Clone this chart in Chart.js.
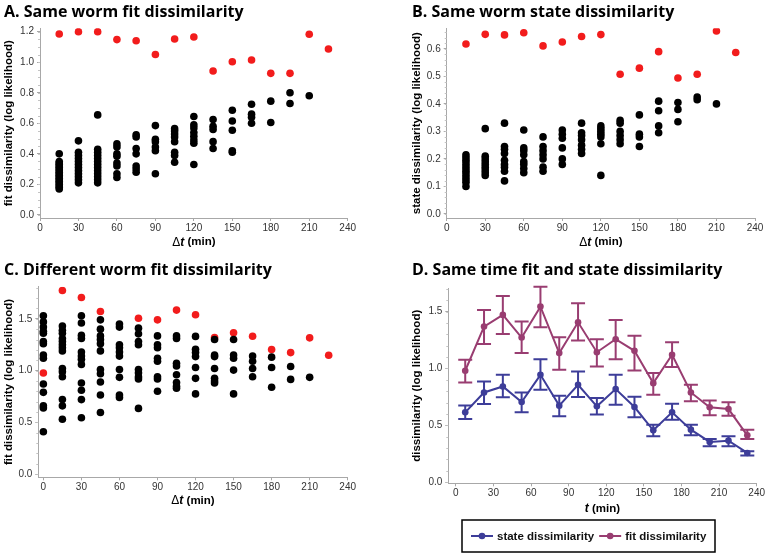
<!DOCTYPE html>
<html><head><meta charset="utf-8">
<script src="https://cdn.jsdelivr.net/npm/chart.js@4/dist/chart.umd.min.js"></script>
<style>
html,body{margin:0;padding:0;background:#fff;}
#wrap{position:relative;width:769px;height:556px;overflow:hidden;background:#fff;}
.pc{position:absolute;}
</style></head><body>
<div id="wrap">
<div class="pc" style="left:0;top:0;width:385px;height:262px"><canvas id="cA"></canvas></div>
<div class="pc" style="left:385px;top:0;width:384px;height:262px"><canvas id="cB"></canvas></div>
<div class="pc" style="left:0;top:256px;width:385px;height:264px"><canvas id="cC"></canvas></div>
<div class="pc" style="left:385px;top:256px;width:384px;height:300px"><canvas id="cD"></canvas></div>
</div>
<script>
// ---------- DATA ----------
const xTicks = [0,30,60,90,120,150,180,210,240];
const yTicksA = [0,0.2,0.4,0.6,0.8,1.0,1.2];
const yTicksB = [0,0.1,0.2,0.3,0.4,0.5,0.6];
const yTicksC = [0,0.5,1.0,1.5];
const yTicksD = [0,0.5,1.0,1.5];

// Panel A: same worm fit dissimilarity
const dtSame = [15,30,45,60,75,90,105,120,135,150,165,180,195,210];
const fitSameBlack = [
  [0.40,0.35,0.34,0.33,0.32,0.31,0.30,0.29,0.28,0.27,0.26,0.25,0.24,0.23,0.22,0.21,0.20,0.19,0.18,0.17],
  [0.485,0.41,0.39,0.37,0.35,0.33,0.31,0.29,0.27,0.25,0.23,0.21],
  [0.655,0.43,0.41,0.39,0.37,0.35,0.33,0.31,0.29,0.27,0.25,0.23,0.21],
  [0.465,0.445,0.40,0.385,0.34,0.32,0.27,0.245],
  [0.525,0.51,0.435,0.40,0.32,0.30,0.28],
  [0.585,0.495,0.48,0.445,0.42,0.27],
  [0.565,0.55,0.53,0.51,0.48,0.41,0.39,0.345],
  [0.645,0.59,0.57,0.54,0.515,0.49,0.47,0.33],
  [0.625,0.58,0.56,0.48,0.435],
  [0.685,0.615,0.555,0.42,0.41],
  [0.725,0.66,0.64,0.60],
  [0.745,0.605],
  [0.80,0.73],
  [0.78]
];
const dtSameRed = [15,30,45,60,75,90,105,120,135,150,165,180,195,210,225];
const fitSameRed = [1.185,1.20,1.20,1.148,1.14,1.05,1.152,1.165,0.942,1.003,1.014,0.927,0.927,1.183,1.086];

// Panel B: same worm state dissimilarity
const stateSameBlack = [
  [0.215,0.205,0.195,0.185,0.175,0.165,0.155,0.145,0.135,0.125,0.115,0.10],
  [0.31,0.21,0.20,0.19,0.18,0.17,0.16,0.15,0.14],
  [0.33,0.245,0.235,0.22,0.195,0.18,0.17,0.155,0.12],
  [0.305,0.24,0.23,0.215,0.19,0.18,0.165,0.15],
  [0.28,0.245,0.23,0.215,0.20,0.17,0.155],
  [0.305,0.29,0.275,0.24,0.20,0.18],
  [0.33,0.295,0.285,0.27,0.25,0.235,0.22],
  [0.32,0.31,0.30,0.29,0.28,0.255,0.14],
  [0.34,0.33,0.30,0.285,0.27,0.255],
  [0.36,0.29,0.28,0.245],
  [0.41,0.375,0.32,0.295],
  [0.405,0.38,0.335],
  [0.425,0.415],
  [0.40]
];
const stateSameRed = [0.618,0.653,0.651,0.659,0.611,0.625,0.645,0.652,0.508,0.530,0.590,0.494,0.508,0.665,0.587];

// Panel C: different worm fit dissimilarity
const dtDiff = [0,15,30,45,60,75,90,105,120,135,150,165,180,195,210];
const fitDiffBlack = [
  [1.53,1.47,1.42,1.38,1.36,1.28,1.26,1.15,1.12,0.87,0.79,0.66,0.64,0.41],
  [1.43,1.39,1.36,1.31,1.28,1.25,1.22,1.19,1.02,0.99,0.94,0.72,0.66,0.53],
  [1.53,1.46,1.34,1.31,1.18,1.14,1.11,1.06,0.88,0.81,0.72,0.545],
  [1.49,1.40,1.335,1.30,1.26,1.19,1.01,0.97,0.89,0.765,0.595],
  [1.45,1.42,1.25,1.22,1.18,1.14,1.01,0.935,0.765,0.74],
  [1.41,1.355,1.28,1.25,1.01,0.98,0.94,0.92,0.635],
  [1.335,1.25,1.22,1.12,1.09,0.94,0.92,0.80],
  [1.335,1.31,1.07,1.045,0.96,0.885,0.85,0.83],
  [1.33,1.205,1.175,1.135,1.03,0.925,0.775],
  [1.30,1.15,1.135,1.02,0.925,0.90,0.88],
  [1.30,1.15,1.12,1.005,0.775],
  [1.14,1.09,1.02,0.94],
  [1.13,1.03,0.84],
  [1.04,0.915],
  [0.935]
];
const dtDiffRed = [0,15,30,45,75,90,105,120,135,150,165,180,195,210,225];
const fitDiffRed = [0.977,1.774,1.706,1.571,1.506,1.49,1.584,1.539,1.319,1.365,1.332,1.203,1.174,1.316,1.148];

// Panel D: same time fit and state dissimilarity
const tD = [7.5,22.5,37.5,52.5,67.5,82.5,97.5,112.5,127.5,142.5,157.5,172.5,187.5,202.5,217.5,232.5];
const stateMean = [0.614,0.789,0.842,0.705,0.944,0.673,0.857,0.667,0.819,0.661,0.456,0.614,0.462,0.354,0.365,0.257];
const stateLo   = [0.556,0.687,0.746,0.614,0.813,0.579,0.749,0.594,0.681,0.570,0.404,0.550,0.412,0.316,0.316,0.234];
const stateHi   = [0.675,0.886,0.944,0.789,1.082,0.760,0.974,0.740,0.944,0.751,0.506,0.690,0.506,0.380,0.404,0.272];
const fitMean   = [0.98,1.368,1.471,1.272,1.544,1.135,1.406,1.143,1.257,1.155,0.871,1.12,0.789,0.658,0.643,0.412];
const fitLo     = [0.877,1.216,1.304,1.135,1.363,0.988,1.246,1.018,1.082,0.982,0.769,1.012,0.711,0.588,0.585,0.380];
const fitHi     = [1.076,1.515,1.637,1.412,1.719,1.275,1.573,1.257,1.427,1.287,0.959,1.231,0.857,0.719,0.702,0.462];

// ---------- HELPERS ----------
const BLUE = '#3d3d99', PURPLE = '#993d71', RED = '#f21c1c', AXIS = '#a8a8a8';
const TICKFONT = {family:'"Liberation Sans", Arial, sans-serif', size:10};
const cols = (xs, lists) => lists.flatMap((ys,i) => ys.map(y => ({x:xs[i], y})));
const pairs = (xs, ys) => ys.map((y,i) => ({x:xs[i], y}));

const errorBars = {
  id:'errorBars',
  afterDatasetsDraw(chart){
    const {ctx, scales:{x,y}} = chart;
    chart.data.datasets.forEach(ds => {
      if(!ds.errLo) return;
      ctx.save(); ctx.strokeStyle = ds.borderColor; ctx.lineWidth = 2;
      ds.data.forEach((p,j) => {
        const px = x.getPixelForValue(p.x), y1 = y.getPixelForValue(ds.errLo[j]), y2 = y.getPixelForValue(ds.errHi[j]);
        ctx.beginPath();
        ctx.moveTo(px,y1); ctx.lineTo(px,y2);
        ctx.moveTo(px-7,y1); ctx.lineTo(px+7,y1);
        ctx.moveTo(px-7,y2); ctx.lineTo(px+7,y2);
        ctx.stroke();
      });
      ctx.restore();
    });
  }
};
const richTitle = {
  id:'richTitle',
  afterDraw(chart, args, opts){
    if(!opts.parts) return;
    const ctx = chart.ctx, ca = chart.chartArea;
    ctx.save(); ctx.textBaseline = 'middle'; ctx.fillStyle = '#000';
    const w = opts.parts.map(p => { ctx.font = p.font; return ctx.measureText(p.text).width; });
    let x0 = (ca.left + ca.right)/2 - w.reduce((a,b)=>a+b,0)/2;
    opts.parts.forEach((p,k) => { ctx.font = p.font; ctx.fillText(p.text, x0, opts.y); x0 += w[k]; });
    ctx.restore();
  }
};
const minorTicks = {
  id:'minorTicks',
  afterDraw(chart, args, opts){
    if(!opts.yStep) return;
    const {ctx, chartArea:ca, scales:{x,y}} = chart;
    ctx.save(); ctx.strokeStyle = '#c4c4c4'; ctx.lineWidth = 1;
    for(let v = 0; v <= y.max + 1e-9; v += opts.yStep){
      const py = Math.round(y.getPixelForValue(v)) + 0.5;
      ctx.beginPath(); ctx.moveTo(ca.left, py); ctx.lineTo(ca.left - 2, py); ctx.stroke();
    }
    ctx.restore();
  }
};
const boxLegend = {
  id:'boxLegend',
  afterDraw(chart, args, opts){
    if(!opts.box) return;
    const ctx = chart.ctx, b = opts.box;
    ctx.save();
    ctx.strokeStyle = '#000'; ctx.lineWidth = 1.5; ctx.strokeRect(b.x, b.y, b.w, b.h);
    ctx.font = 'bold 11.5px "Liberation Sans", Arial, sans-serif'; ctx.textBaseline = 'middle';
    let cx = b.x + 9; const cy = b.y + b.h/2;
    chart.data.datasets.forEach(ds => {
      ctx.strokeStyle = ds.borderColor; ctx.fillStyle = ds.borderColor; ctx.lineWidth = 2;
      ctx.beginPath(); ctx.moveTo(cx, cy); ctx.lineTo(cx+22, cy); ctx.stroke();
      ctx.beginPath(); ctx.arc(cx+11, cy, 3.3, 0, Math.PI*2); ctx.fill();
      ctx.fillStyle = '#111'; ctx.fillText(ds.label, cx+26, cy+0.5);
      cx += 26 + ctx.measureText(ds.label).width + 5;
    });
    ctx.restore();
  }
};

function makeScales(o){
  return {
    x:{type:'linear', min:o.xmin, max:240,
       afterBuildTicks:s => { s.ticks = xTicks.map(v => ({value:v})); },
       afterFit:s => { s.height = o.xh; },
       grid:{display:true, drawOnChartArea:false, drawTicks:true, tickLength:3, color:AXIS},
       border:{display:true, color:AXIS, width:1},
       ticks:{font:TICKFONT, color:'#333', padding:1, maxRotation:0, callback:v => v}},
    y:{type:'linear', min:o.ymin, max:o.ymax,
       afterBuildTicks:s => { s.ticks = o.yt.map(v => ({value:v})); },
       afterFit:s => { s.width = o.yw; },
       grid:{display:true, drawOnChartArea:false, drawTicks:true, tickLength:3, color:AXIS},
       border:{display:true, color:AXIS, width:1},
       ticks:{font:TICKFONT, color:'#333', padding:3, callback:v => Number(v).toFixed(1)},
       title:{display:true, text:o.ytitle, color:'#000', padding:{top:-2,bottom:0},
              font:{family:'"Liberation Sans", Arial, sans-serif', size:11.5, weight:'bold'}}}
  };
}
function titleOpt(text, pt, pb){
  return {display:true, text, align:'start', color:'#000',
          padding:{top:pt, bottom:pb},
          font:{family:'"Open Sans", Lato, sans-serif', size:16, weight:'bold', lineHeight:1.2}};
}
const dtParts = (y) => ({y, parts:[
  {text:'Δ', font:'12px "Liberation Sans", Arial, sans-serif'},
  {text:'t', font:'italic bold 12px "Liberation Sans", Arial, sans-serif'},
  {text:' (min)', font:'bold 11.5px "Liberation Sans", Arial, sans-serif'}]});
const common = {responsive:true, maintainAspectRatio:false, animation:false, events:[]};
const scatterDs = (data, color) => ({data, showLine:false, pointRadius:3.8, pointBackgroundColor:color, pointBorderWidth:0, borderColor:color});

// ---------- PANEL A ----------
new Chart(document.getElementById('cA'), {
  type:'scatter',
  data:{datasets:[
    scatterDs(cols(dtSame, fitSameBlack), '#000'),
    scatterDs(pairs(dtSameRed, fitSameRed), RED)]},
  options:{...common,
    layout:{padding:{left:4, top:0, right:37.3, bottom:0}},
    scales:makeScales({xmin:0, xh:44, ymin:-0.02, ymax:1.222, yt:yTicksA, yw:36, ytitle:'fit dissimilarity (log likelihood)'}),
    plugins:{legend:{display:false}, tooltip:{enabled:false},
      title:titleOpt('A. Same worm fit dissimilarity', 2.4, 6.7),
      richTitle:dtParts(242.3), minorTicks:{yStep:0.05}}},
  plugins:[richTitle, minorTicks]
});

// ---------- PANEL B ----------
new Chart(document.getElementById('cB'), {
  type:'scatter',
  data:{datasets:[
    scatterDs(cols(dtSame, stateSameBlack), '#000'),
    scatterDs(pairs(dtSameRed, stateSameRed), RED)]},
  options:{...common,
    layout:{padding:{left:27, top:0, right:14, bottom:0}},
    scales:makeScales({xmin:0, xh:44, ymin:-0.015, ymax:0.675, yt:yTicksB, yw:34.7, ytitle:'state dissimilarity (log likelihood)'}),
    plugins:{legend:{display:false}, tooltip:{enabled:false},
      title:titleOpt('B. Same worm state dissimilarity', 2.4, 6.7),
      richTitle:dtParts(242.3), minorTicks:{yStep:0.02}}},
  plugins:[richTitle, minorTicks]
});

// ---------- PANEL C ----------
new Chart(document.getElementById('cC'), {
  type:'scatter',
  data:{datasets:[
    scatterDs(cols(dtDiff, fitDiffBlack), '#000'),
    scatterDs(pairs(dtDiffRed, fitDiffRed), RED)]},
  options:{...common,
    layout:{padding:{left:4, top:0, right:37.3, bottom:0}},
    scales:makeScales({xmin:-4, xh:42.7, ymin:-0.03, ymax:1.81, yt:yTicksC, yw:34.3, ytitle:'fit dissimilarity (log likelihood)'}),
    plugins:{legend:{display:false}, tooltip:{enabled:false},
      title:titleOpt('C. Different worm fit dissimilarity', 4.6, 6.9),
      richTitle:dtParts(245), minorTicks:{yStep:0.1}}},
  plugins:[richTitle, minorTicks]
});

// ---------- PANEL D ----------
new Chart(document.getElementById('cD'), {
  type:'scatter',
  data:{datasets:[
    {label:'state dissimilarity', data:pairs(tD, stateMean), errLo:stateLo, errHi:stateHi, showLine:true,
     borderColor:BLUE, backgroundColor:BLUE, pointBackgroundColor:BLUE, pointBorderWidth:0, pointRadius:3.3, borderWidth:2},
    {label:'fit dissimilarity', data:pairs(tD, fitMean), errLo:fitLo, errHi:fitHi, showLine:true,
     borderColor:PURPLE, backgroundColor:PURPLE, pointBackgroundColor:PURPLE, pointBorderWidth:0, pointRadius:3.3, borderWidth:2}]},
  options:{...common,
    layout:{padding:{left:27, top:0, right:12.3, bottom:32.7}},
    scales:makeScales({xmin:-6, xh:40, ymin:-0.01, ymax:1.705, yt:yTicksD, yw:36.3, ytitle:'dissimilarity (log likelihood)'}),
    plugins:{legend:{display:false}, tooltip:{enabled:false},
      title:titleOpt('D. Same time fit and state dissimilarity', 4.6, 8.5),
      richTitle:{y:253, parts:[
        {text:'t', font:'italic bold 12px "Liberation Sans", Arial, sans-serif'},
        {text:' (min)', font:'bold 11.5px "Liberation Sans", Arial, sans-serif'}]},
      minorTicks:{yStep:0.1},
      boxLegend:{box:{x:77, y:264, w:253, h:32}}}},
  plugins:[errorBars, richTitle, minorTicks, boxLegend]
});
</script>
</body></html>
